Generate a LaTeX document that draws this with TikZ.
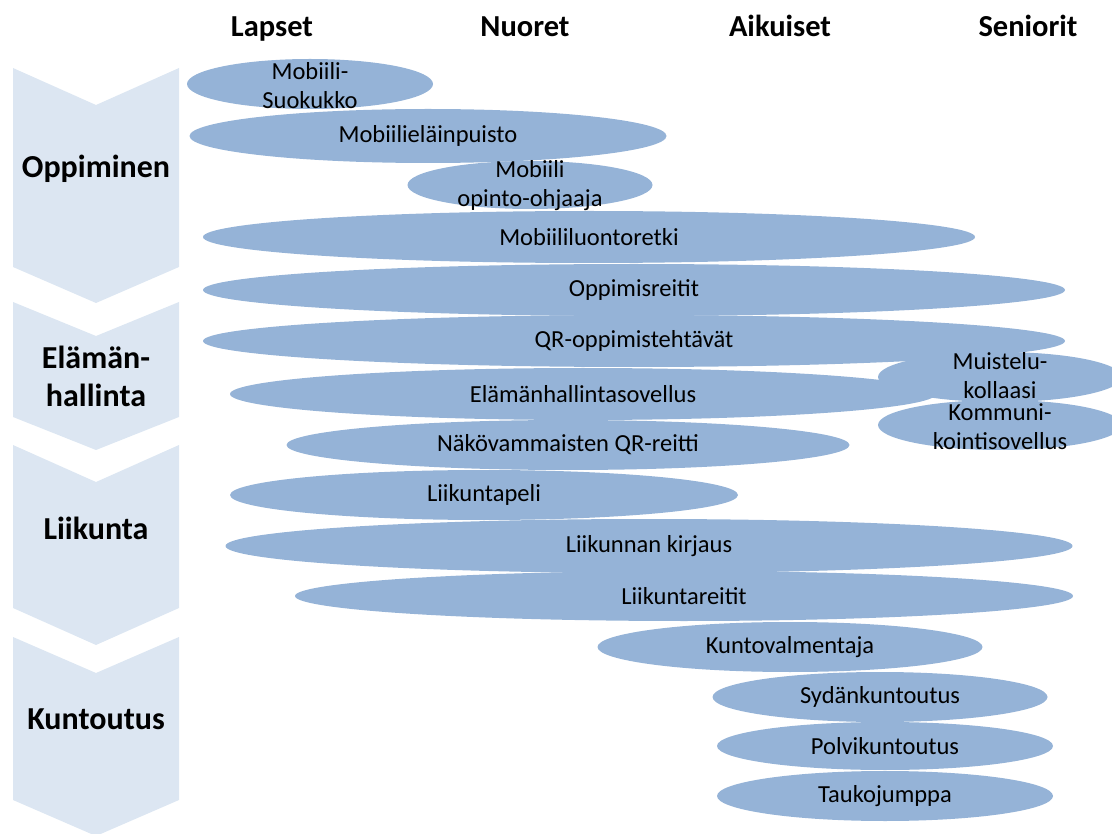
\documentclass[tikz,border=0pt]{standalone}
\usepackage{fontspec}
\setmainfont{Carlito}
\usetikzlibrary{shapes.geometric}

\definecolor{blobblue}{HTML}{95B3D7}
\definecolor{chevblue}{HTML}{DCE6F2}

\tikzset{
    chev/.style={fill=chevblue},
    blob/.style={ellipse, fill=blobblue, inner sep=0pt},
    lbl/.style={align=center, inner sep=0pt, font=\fontsize{24.5}{29.5}\selectfont},
    grp/.style={align=center, inner sep=0pt, font=\fontsize{32}{38}\selectfont\bfseries},
    age/.style={anchor=base, inner sep=0pt, font=\fontsize{30.5}{34}\selectfont\bfseries}
}

\begin{document}
\begin{tikzpicture}[x=1pt,y=-1pt]
    \useasboundingbox (0,0) rectangle (1112,834);
    \clip (0,0) rectangle (1112,834);
    % Draw chevrons
    \fill[chev] (13,68) -- (96,105) -- (179,68) -- (179,267) -- (96,303) -- (13,267) -- cycle;
    \fill[chev] (13,302) -- (96,336) -- (179,302) -- (179,417) -- (96,450) -- (13,417) -- cycle;
    \fill[chev] (13,445) -- (96,482) -- (179,445) -- (179,608) -- (96,645) -- (13,608) -- cycle;
    \fill[chev] (13,637) -- (96,673) -- (179,637) -- (179,800) -- (96,836) -- (13,800) -- cycle;
    % Group labels
    \node[grp] (oppiminen) at (96,169) {Oppiminen};
    \node[grp] (elamanhallinta) at (96,376) {Elämän-\\hallinta};
    \node[grp] (liikunta) at (96,528) {Liikunta};
    \node[grp] (kuntoutus) at (96,719) {Kuntoutus};
    % Age groups
    \node[age] (lapset) at (272,37) {Lapset};
    \node[age] (nuoret) at (525,37) {Nuoret};
    \node[age] (aikuiset) at (780,37) {Aikuiset};
    \node[age] (seniorit) at (1028,37) {Seniorit};
    % Draw ellipses
    \node[blob, minimum width=246, minimum height=50] (suokukko) at (310,84) {};
    \node[blob, minimum width=477, minimum height=54] (elainpuisto) at (428,136) {};
    \node[blob, minimum width=245, minimum height=48] (ohjaaja) at (530,185) {};
    \node[blob, minimum width=772, minimum height=52] (luontoretki) at (589,237) {};
    \node[blob, minimum width=862, minimum height=52] (reitit) at (634,290) {};
    \node[blob, minimum width=862, minimum height=52] (qr) at (634,341) {};
    \node[blob, minimum width=244, minimum height=50] (muistelu) at (1000,377) {};
    \node[blob, minimum width=706, minimum height=52] (hallinta) at (583,394) {};
    \node[blob, minimum width=244, minimum height=50] (kommunikointi) at (1000,425) {};
    \node[blob, minimum width=563, minimum height=50] (nakovammaiset) at (568,445) {};
    \node[blob, minimum width=508, minimum height=50] (peli) at (484,495) {};
    \node[blob, minimum width=847, minimum height=54] (kirjaus) at (649,546) {};
    \node[blob, minimum width=778, minimum height=50] (liikuntareitit) at (684,596) {};
    \node[blob, minimum width=385, minimum height=50] (kuntovalmentaja) at (790,647) {};
    \node[blob, minimum width=335, minimum height=50] (sydan) at (880,697) {};
    \node[blob, minimum width=336, minimum height=48] (polvi) at (885,746) {};
    \node[blob, minimum width=336, minimum height=50] (tauko) at (885,796) {};
    % Texts on top
    \node[lbl] (suokukko-t) at ([yshift=-1.5]suokukko) {Mobiili-\\Suokukko};
    \node[lbl] (elainpuisto-t) at (elainpuisto) {Mobiilieläinpuisto};
    \node[lbl] (ohjaaja-t) at ([yshift=-0.5]ohjaaja) {Mobiili\\opinto-ohjaaja};
    \node[lbl] (luontoretki-t) at (luontoretki) {Mobiililuontoretki};
    \node[lbl] (reitit-t) at (reitit) {Oppimisreitit};
    \node[lbl] (qr-t) at (qr) {QR-oppimistehtävät};
    \node[lbl] (muistelu-t) at ([yshift=1.5]muistelu) {Muistelu-\\kollaasi};
    \node[lbl] (hallinta-t) at (hallinta) {Elämänhallintasovellus};
    \node[lbl] (kommunikointi-t) at ([yshift=-1.5]kommunikointi) {Kommuni-\\kointisovellus};
    \node[lbl] (nakovammaiset-t) at (nakovammaiset) {Näkövammaisten QR-reitti};
    \node[lbl] (peli-t) at (peli) {Liikuntapeli};
    \node[lbl] (kirjaus-t) at (kirjaus) {Liikunnan kirjaus};
    \node[lbl] (liikuntareitit-t) at (liikuntareitit) {Liikuntareitit};
    \node[lbl] (kuntovalmentaja-t) at (kuntovalmentaja) {Kuntovalmentaja};
    \node[lbl] (sydan-t) at (sydan) {Sydänkuntoutus};
    \node[lbl] (polvi-t) at (polvi) {Polvikuntoutus};
    \node[lbl] (tauko-t) at (tauko) {Taukojumppa};
\end{tikzpicture}
\end{document}
